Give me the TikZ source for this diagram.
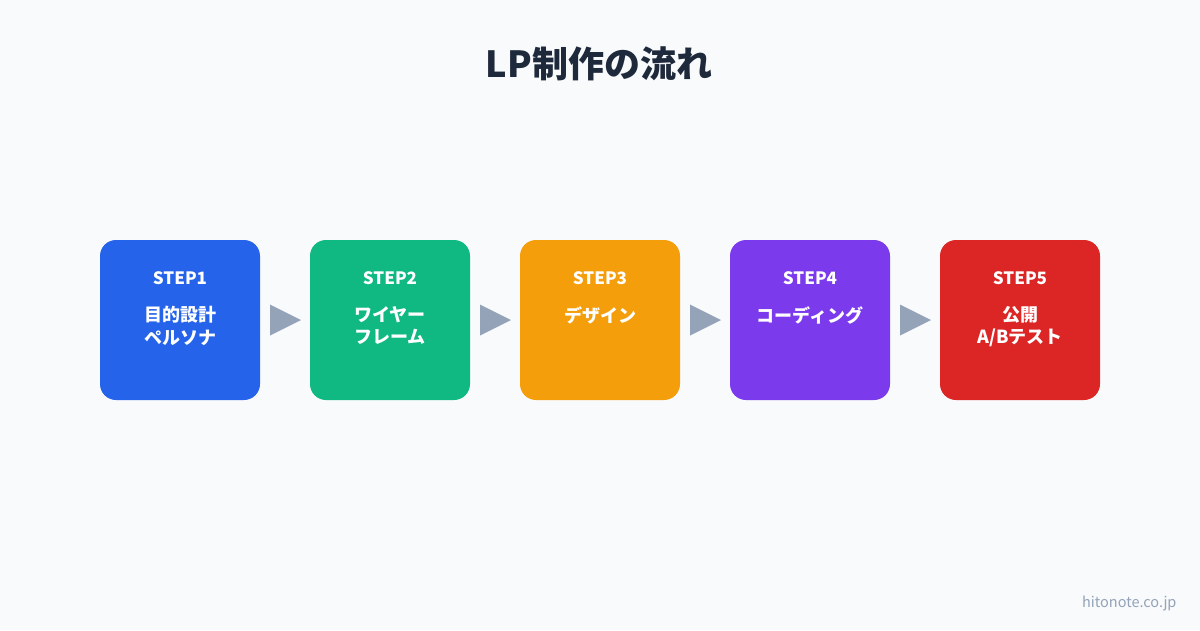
\documentclass[tikz,border=0pt]{standalone}
\usepackage{fontspec}
\setmainfont{Noto Sans CJK JP}
\usetikzlibrary{positioning, calc, shapes.geometric}
\definecolor{bg}{HTML}{F8FAFC}
\definecolor{titlecol}{HTML}{1E293B}
\definecolor{arrowcol}{HTML}{94A3B8}
\definecolor{stepblue}{HTML}{2563EB}
\definecolor{stepgreen}{HTML}{10B981}
\definecolor{steporange}{HTML}{F59E0B}
\definecolor{steppurple}{HTML}{7C3AED}
\definecolor{stepred}{HTML}{DC2626}
\tikzstyle{stepbox}=[minimum width=160pt, minimum height=160pt, rounded corners=16pt,
inner sep=0pt, outer sep=0pt]
\tikzstyle{steplabel}=[text=white, inner sep=0pt, font=\bfseries\fontsize{17}{20}\selectfont]
\tikzstyle{stepbody}=[text=white, inner sep=0pt, anchor=north, align=center,
font=\bfseries\fontsize{18}{22.5}\selectfont]
\tikzstyle{tri}=[isosceles triangle, isosceles triangle stretches, fill=arrowcol,
minimum width=31pt, minimum height=31pt, inner sep=0pt, outer sep=0pt, anchor=apex]

\begin{document}
\begin{tikzpicture}[x=1pt,y=-1pt]
      \fill[bg] (0,0) rectangle (1200,630);
      \useasboundingbox (0,0) rectangle (1200,630);
      \node [text=titlecol, font=\bfseries\fontsize{36}{40}\selectfont] (title) at (599,64) {LP制作の流れ};
      % step boxes
      \node [stepbox, fill=stepblue] (s1) at (180,320) {};
      \node [stepbox, fill=stepgreen, right=50pt of s1] (s2) {};
      \node [stepbox, fill=steporange, right=50pt of s2] (s3) {};
      \node [stepbox, fill=steppurple, right=50pt of s3] (s4) {};
      \node [stepbox, fill=stepred, right=50pt of s4] (s5) {};
      % labels
      \node [steplabel] (l1) at ($(s1.north)+(0,38)$) {STEP1};
      \node [steplabel] (l2) at ($(s2.north)+(0,38)$) {STEP2};
      \node [steplabel] (l3) at ($(s3.north)+(0,38)$) {STEP3};
      \node [steplabel] (l4) at ($(s4.north)+(0,38)$) {STEP4};
      \node [steplabel] (l5) at ($(s5.north)+(0,38)$) {STEP5};
      \node [stepbody] (b1) at ($(s1.north)+(0,66)$) {目的設計\\ペルソナ};
      \node [stepbody] (b2) at ($(s2.north)+(0,66)$) {ワイヤー\\フレーム};
      \node [stepbody] (b3) at ($(s3.north)+(0,66)$) {デザイン};
      \node [stepbody] (b4) at ($(s4.north)+(0,66)$) {コーディング};
      \node [stepbody] (b5) at ($(s5.north)+(0,66)$) {公開\\A/Bテスト};
      % arrows between steps
      \node [tri] (a1) at ($(s2.west)+(-9,0)$) {};
      \node [tri] (a2) at ($(s3.west)+(-9,0)$) {};
      \node [tri] (a3) at ($(s4.west)+(-9,0)$) {};
      \node [tri] (a4) at ($(s5.west)+(-9,0)$) {};
      \node [text=arrowcol, anchor=east, font=\fontsize{14.5}{17}\selectfont] (site) at (1180,603) {hitonote.co.jp};
  \end{tikzpicture}
\end{document}
